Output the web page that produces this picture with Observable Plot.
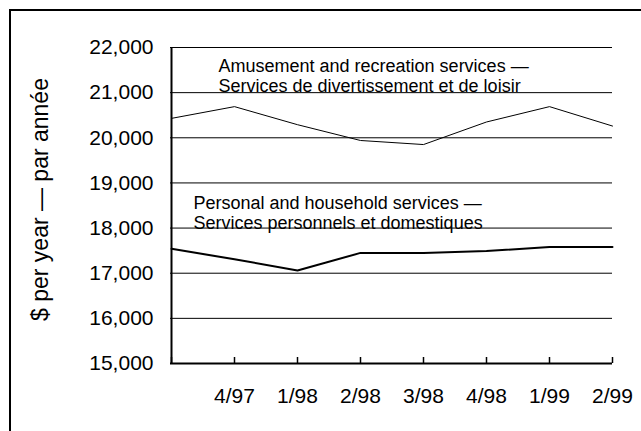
<!DOCTYPE html>
<html>
<head>
<meta charset="utf-8">
<script src="https://cdn.jsdelivr.net/npm/d3@7"></script>
<script src="https://cdn.jsdelivr.net/npm/@observablehq/plot@0.6"></script>
<style>
  html, body { margin: 0; padding: 0; background: #fff; }
  #wrap { position: relative; width: 641px; height: 431px; overflow: hidden; }
  #box { position: absolute; left: 9px; top: 9px; width: 700px; height: 500px;
         border-left: 2px solid #000; border-top: 2px solid #000; }
  #chart { position: absolute; left: 0; top: 0; }
</style>
</head>
<body>
<div id="wrap"><div id="box"></div><div id="chart"></div></div>
<script>
const quarters = ["3/97", "4/97", "1/98", "2/98", "3/98", "4/98", "1/99", "2/99"];
const xTickLabels = ["", "4/97", "1/98", "2/98", "3/98", "4/98", "1/99", "2/99"];
const amusement = [20430, 20690, 20290, 19940, 19850, 20350, 20690, 20260];
const personal = [17540, 17310, 17060, 17450, 17450, 17490, 17580, 17580];
const yTicks = [15000, 16000, 17000, 18000, 19000, 20000, 21000, 22000];
const gridValues = [16000, 17000, 18000, 19000, 20000, 21000, 22000];
const yLabel = "$ per year \u2014 par ann\u00e9e";
const amusementLabel = "Amusement and recreation services \u2014\nServices de divertissement et de loisir";
const personalLabel = "Personal and household services \u2014\nServices personnels et domestiques";

const amusementData = quarters.map((q, i) => ({q, v: amusement[i]}));
const personalData = quarters.map((q, i) => ({q, v: personal[i]}));
const labelOf = new Map(quarters.map((q, i) => [q, xTickLabels[i]]));

const font = "'Liberation Sans', Arial, Helvetica, sans-serif";

const chart = Plot.plot({
  width: 641,
  height: 431,
  marginLeft: 170,
  marginRight: 29,
  marginTop: 47,
  marginBottom: 68,
  style: {fontFamily: font, fontSize: "21px", background: "transparent", color: "#000"},
  x: {type: "point", domain: quarters, padding: 0},
  y: {domain: [15000, 22000]},
  marks: [
    Plot.ruleY(gridValues, {stroke: "#000", strokeWidth: 1}),
    Plot.axisY({ticks: yTicks, tickSize: 0, tickPadding: 17, tickFormat: d3.format(","),
      fontSize: 21, label: null}),
    Plot.text([yLabel], {frameAnchor: "left", rotate: -90, dx: -139, dy: -6, textAnchor: "middle",
      lineAnchor: "top", fontSize: 23, fill: "#000"}),
    Plot.axisX({ticks: quarters, tickSize: 6, dy: -6, tickFormat: null, strokeWidth: 1.5, label: null}),
    Plot.axisX({ticks: quarters, tickSize: 0, tickPadding: 25, tickFormat: d => labelOf.get(d),
      fontSize: 21, label: null}),
    Plot.ruleY([15000], {stroke: "#000", strokeWidth: 2}),
    Plot.ruleX([quarters[0]], {stroke: "#000", strokeWidth: 2}),
    Plot.line(amusementData, {x: "q", y: "v", stroke: "#000", strokeWidth: 1}),
    Plot.line(personalData, {x: "q", y: "v", stroke: "#000", strokeWidth: 2}),
    Plot.text([amusementLabel], {x: () => quarters[0], y: () => 21780, dx: 47, textAnchor: "start",
      lineAnchor: "top", lineHeight: 1.12, fontSize: 18, fill: "#000",
      style: "letter-spacing: 1.3px"}),
    Plot.text([personalLabel], {x: () => quarters[0], y: () => 18750, dx: 22, textAnchor: "start",
      lineAnchor: "top", lineHeight: 1.12, fontSize: 18, fill: "#000",
      style: "letter-spacing: 1.3px"})
  ]
});
document.getElementById("chart").appendChild(chart);
</script>
</body>
</html>
